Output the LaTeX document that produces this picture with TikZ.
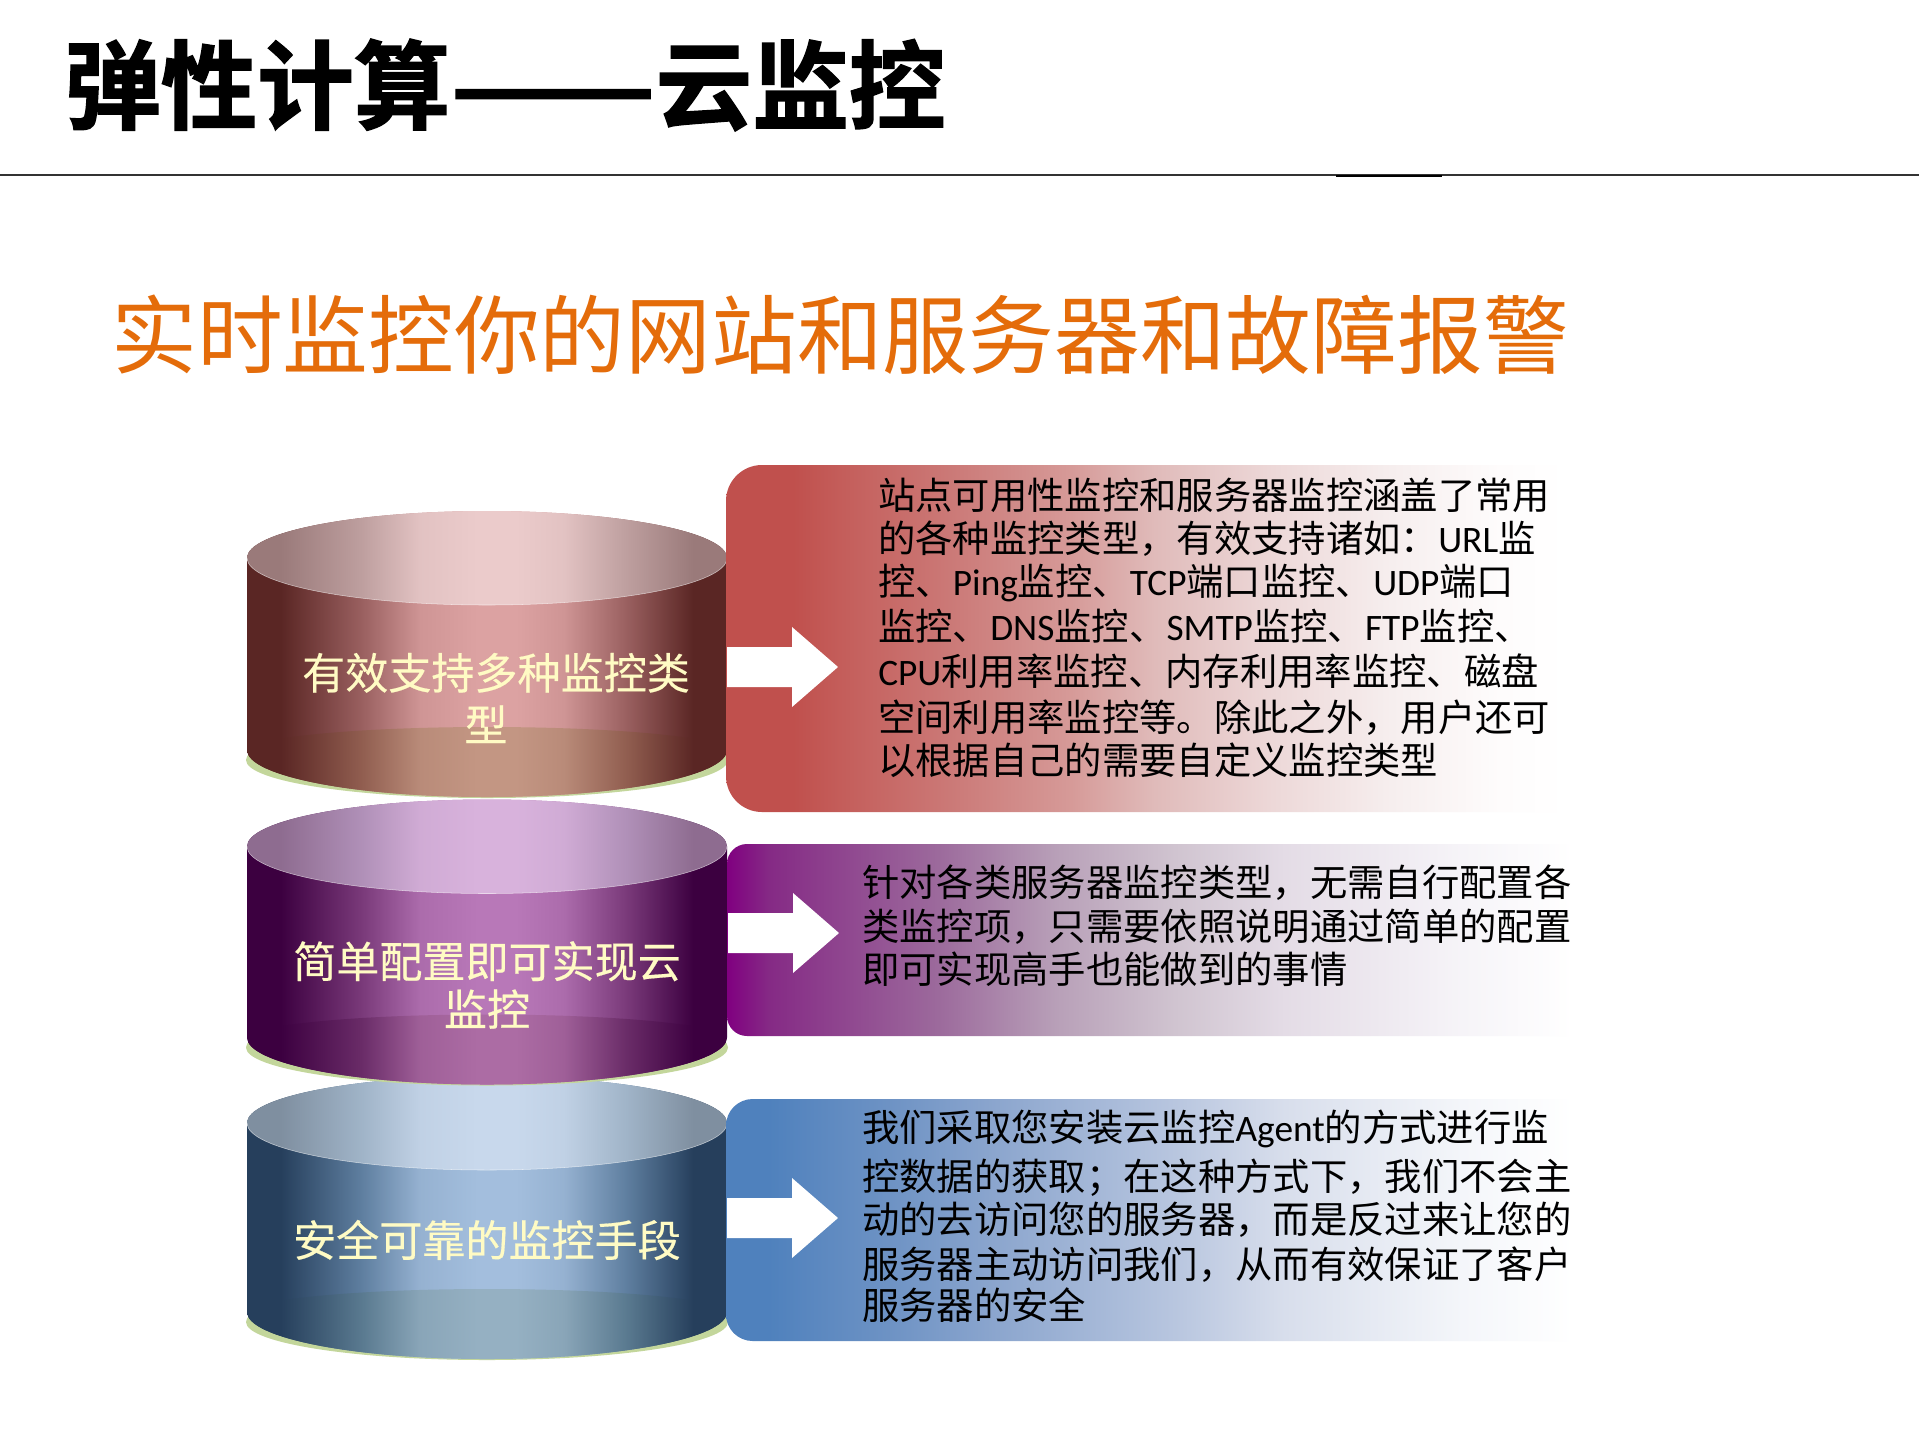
\documentclass[tikz,border=0pt]{standalone}
\usepackage{fontspec}
\setmainfont{Noto Sans CJK SC}
\newfontfamily\titlefont[FakeBold=1.5]{Noto Sans CJK SC Bold}
\newfontfamily\labelfont[FakeBold=0.4]{Noto Sans CJK SC}
\newfontfamily\lat{Carlito}
\newcommand\La[1]{{\lat #1}}
\definecolor{rda}{HTML}{5A2624}\definecolor{rmi}{HTML}{9A6060}\definecolor{rli}{HTML}{DCA2A2}
\definecolor{rta}{HTML}{9A7A7A}\definecolor{rtm}{HTML}{BE9F9F}\definecolor{rtl}{HTML}{EBCBCB}
\definecolor{rom}{HTML}{915E50}\definecolor{rol}{HTML}{C39683}
\definecolor{pda}{HTML}{3C0040}\definecolor{pmi}{HTML}{7A3A7A}\definecolor{pli}{HTML}{B878B8}
\definecolor{pta}{HTML}{8E6C90}\definecolor{ptm}{HTML}{B090B8}\definecolor{ptl}{HTML}{D8B2DC}
\definecolor{pom}{HTML}{6A2C68}\definecolor{pol}{HTML}{AC6CA4}
\definecolor{bda}{HTML}{263F5C}\definecolor{bmi}{HTML}{5F7FA0}\definecolor{bli}{HTML}{A3BEDD}
\definecolor{bta}{HTML}{7F8FA0}\definecolor{btm}{HTML}{A0B4C8}\definecolor{btl}{HTML}{C8D8EC}
\definecolor{bom}{HTML}{5A7A90}\definecolor{bol}{HTML}{95B0C2}
\definecolor{greenbase}{HTML}{C3D69B}
\definecolor{orangetitle}{HTML}{E46C0A}
\definecolor{labelcol}{HTML}{FFFBC4}
\newcommand\mkshade[4]{\pgfdeclarehorizontalshading{#1}{100bp}{color(0bp)=(#2);color(28.5bp)=(#2);color(37bp)=(#3);color(43bp)=(#4!80!#3);color(49bp)=(#4);color(53bp)=(#4);color(58bp)=(#4!80!#3);color(64.5bp)=(#3);color(71.5bp)=(#2);color(100bp)=(#2)}}
\mkshade{rbody}{rda}{rmi}{rli}\mkshade{rtop}{rta}{rtm}{rtl}\mkshade{rover}{rda}{rom}{rol}
\mkshade{pbody}{pda}{pmi}{pli}\mkshade{ptop}{pta}{ptm}{ptl}\mkshade{pover}{pda}{pom}{pol}
\mkshade{bbody}{bda}{bmi}{bli}\mkshade{btop}{bta}{btm}{btl}\mkshade{bover}{bda}{bom}{bol}
\pgfdeclarehorizontalshading{rbox}{100bp}{rgb(0bp)=(.753,.314,.302);rgb(29bp)=(.753,.314,.302);rgb(32bp)=(.769,.369,.357);rgb(39bp)=(.8,.486,.478);rgb(45.5bp)=(.839,.604,.596);rgb(50.5bp)=(.878,.733,.729);rgb(57.5bp)=(.929,.847,.847);rgb(64.5bp)=(.965,.933,.933);rgb(71bp)=(.996,.988,.988);rgb(75bp)=(1,1,1);rgb(100bp)=(1,1,1)}
\pgfdeclarehorizontalshading{pbox}{100bp}{rgb(0bp)=(.502,0,.502);rgb(25bp)=(.502,0,.502);rgb(27.5bp)=(.522,.165,.522);rgb(37.5bp)=(.612,.416,.612);rgb(44.5bp)=(.722,.627,.722);rgb(51.5bp)=(.816,.769,.816);rgb(58bp)=(.894,.863,.902);rgb(68.5bp)=(.965,.957,.973);rgb(75bp)=(1,1,1);rgb(100bp)=(1,1,1)}
\pgfdeclarehorizontalshading{bbox}{100bp}{rgb(0bp)=(.31,.506,.741);rgb(27.5bp)=(.31,.506,.741);rgb(34.5bp)=(.427,.573,.769);rgb(41bp)=(.549,.651,.808);rgb(51.5bp)=(.722,.776,.875);rgb(58bp)=(.847,.871,.925);rgb(68.5bp)=(.957,.965,.98);rgb(75bp)=(1,1,1);rgb(100bp)=(1,1,1)}
% top centre, bottom centre, body, top, overlay
\newcommand\cyl[5]{%
  \fill[greenbase] (487,-#2-10) ellipse (241 and 38);
  \shade[shading=#3] (247,-#1) -- (247,-#2) arc (180:360:240 and 47) -- (727,-#1) arc (0:180:240 and 47) -- cycle;
  \begin{scope}
    \clip (247,-#1) -- (247,-#2) arc (180:360:240 and 47) -- (727,-#1) -- cycle;
    \shade[shading=#5] (247,-#2-1) arc (180:0:240 and 24) -- (727,-#2-70) -- (247,-#2-70) -- cycle;
  \end{scope}
  \shade[shading=#4] (487,-#1) ellipse (240 and 47);
  \draw[white,opacity=.6,line width=.4pt] (247,-#1) arc (180:360:240 and 47);
}
\newcommand\arw[2]{\fill[white] (#1,-#2+20) -- (#1+65,-#2+20) -- (#1+65,-#2+40) -- (#1+111,-#2) -- (#1+65,-#2-40) -- (#1+65,-#2-20) -- (#1,-#2-20) -- cycle;}
\tikzset{
  bodytext/.style={inner sep=0pt,anchor=north west,align=left,text=black,font=\fontsize{28}{33.4}\selectfont},
  cyltext/.style={inner sep=0pt,align=center,text=labelcol,font=\fontsize{32.3}{39}\labelfont}
}
\begin{document}
\begin{tikzpicture}[x=0.75pt,y=0.75pt]
\useasboundingbox (0,0) rectangle (1919,-1439);
\fill[white] (0,0) rectangle (1919,-1439);
\node[inner sep=0pt,anchor=west,font=\fontsize{72.4}{73}\titlefont] (title) at (64,-85) {弹性计算\scalebox{1.25}[1]{——}云监控};
\draw[line width=.8pt,black!80] (0,-175) -- (1919,-175);
\draw[line width=1.4pt,black] (1336,-176) -- (1442,-176);
\node[inner sep=0pt,anchor=west,text=orangetitle,font=\fontsize{64.3}{64}\selectfont] (sub) at (111,-335) {实时监控你的网站和服务器和故障报警};
\cyl{1123}{1312}{bbody}{btop}{bover}
\cyl{846.5}{1037.5}{pbody}{ptop}{pover}
\cyl{558}{750}{rbody}{rtop}{rover}
\shade[shading=rbox] (1567,-465) [rounded corners=27pt] -- (726,-465) -- (726,-812) [sharp corners] -- (1567,-812) -- cycle;
\shade[shading=pbox] (1573,-844) [rounded corners=15pt] -- (727,-844) -- (727,-1036) [sharp corners] -- (1573,-1036) -- cycle;
\shade[shading=bbox] (1573,-1099) [rounded corners=20pt] -- (726,-1099) -- (726,-1341) [sharp corners] -- (1573,-1341) -- cycle;
\arw{727}{667}
\arw{728}{933}
\arw{727}{1218}
\node[cyltext] (c1) at (496,-698) {有效支持多种监控类\\型\rule{15pt}{0pt}};
\node[cyltext] (c2) at (487,-985) {简单配置即可实现云\\[-3pt]监控};
\node[cyltext] (c3) at (487,-1240) {安全可靠的监控手段};
\node[bodytext] (t1) at (878,-478) {站点可用性监控和服务器监控涵盖了常用\\[-1.3pt]的各种监控类型，有效支持诸如：\La{URL}监\\[-1.3pt]控、\La{Ping}监控、\La{TCP}端口监控、\La{UDP}端口\\[.6pt]监控、\La{DNS}监控、\La{SMTP}监控、\La{FTP}监控、\\[.6pt]\La{CPU}利用率监控、内存利用率监控、磁盘\\[.6pt]空间利用率监控等。除此之外，用户还可\\[-1.3pt]以根据自己的需要自定义监控类型};
\node[bodytext] (t2) at (862,-864.5) {针对各类服务器监控类型，无需自行配置各\\[-.5pt]类监控项，只需要依照说明通过简单的配置\\[-.7pt]即可实现高手也能做到的事情};
\node[bodytext] (t3) at (862,-1109.5) {我们采取您安装云监控\La{Agent}的方式进行监\\[3.8pt]控数据的获取；在这种方式下，我们不会主\\[-1.5pt]动的去访问您的服务器，而是反过来让您的\\[.4pt]服务器主动访问我们，从而有效保证了客户\\[-2.5pt]服务器的安全};
\end{tikzpicture}
\end{document}
